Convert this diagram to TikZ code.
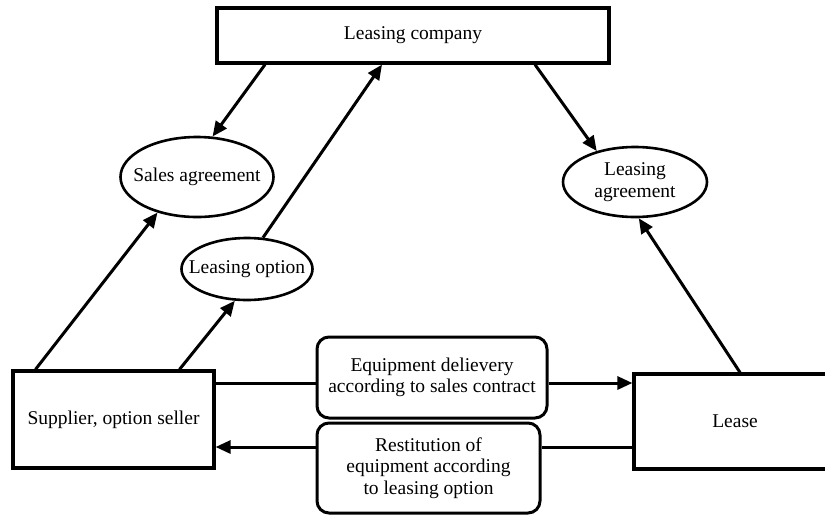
\documentclass[tikz,border=0pt]{standalone}
\usepackage{fontspec}
\setmainfont{Liberation Serif}
\usetikzlibrary{shapes.geometric,arrows.meta}
\begin{document}
\begin{tikzpicture}[x=1pt,y=-1pt,
  txt/.style={font=\fontsize{19.5}{21.5}\selectfont, align=center, inner sep=0pt},
  box/.style={draw, line width=3.2pt, rectangle, inner sep=2pt, txt},
  rbox/.style={draw, line width=3pt, rectangle, rounded corners=12pt, inner sep=2pt, txt},
  ell/.style={draw, line width=2.6pt, ellipse, inner sep=0pt},
  conn/.style={line width=3pt},
  arr/.style={conn, -{Triangle[length=15pt,width=13pt]}}
]
\clip (0,0) rectangle (825,515);
\fill[white] (0,0) rectangle (825,515);

\node[box, minimum width=392pt, minimum height=55pt] (lc) at (413,35.5) {Leasing company};
\node[ell, minimum width=153pt, minimum height=80pt, label={[txt]center:Sales agreement}] (sa) at (197,177) {};
\node[ell, minimum width=131pt, minimum height=62pt, label={[txt]center:Leasing option}] (lo) at (247,269) {};
\node[ell, minimum width=144pt, minimum height=70pt, label={[txt]center:Leasing\\agreement}] (la) at (635,182) {};
\node[box, minimum width=201pt, minimum height=97pt] (sup) at (113.5,419.5) {Supplier, option seller};
\node[rbox, minimum width=230pt, minimum height=81pt] (ed) at (432,377.5) {Equipment delievery\\according to sales contract};
\node[rbox, minimum width=223pt, minimum height=90pt] (re) at (428.5,468) {Restitution of\\equipment according\\to leasing option};
\node[box, minimum width=202pt, minimum height=95pt] (le) at (735,421.5) {Lease};

\draw[arr] ([xshift=-148pt]lc.south) -- (sa.69);
\draw[arr] ([xshift=-78pt]sup.north) -- (sa.222);
\draw[arr] ([xshift=66pt]sup.north) -- (lo.249);
\draw[arr] (lo.63) -- ([xshift=-31pt]lc.south);
\draw[arr] ([xshift=122pt]lc.south) -- (la.141);
\draw[arr] ([xshift=5pt]le.north) -- (la.276);

\coordinate (a1) at ([yshift=-5.5pt]ed.west);
\coordinate (a2) at ([yshift=-5.5pt]ed.east);
\draw[conn] (sup.east |- a1) -- (a1);
\draw[arr] (a2) -- (le.west |- a2);

\coordinate (b1) at ([yshift=21pt]re.east);
\coordinate (b2) at ([yshift=21pt]re.west);
\draw[conn] (le.west |- b1) -- (b1);
\draw[arr] (b2) -- (sup.east |- b2);
\end{tikzpicture}
\end{document}
